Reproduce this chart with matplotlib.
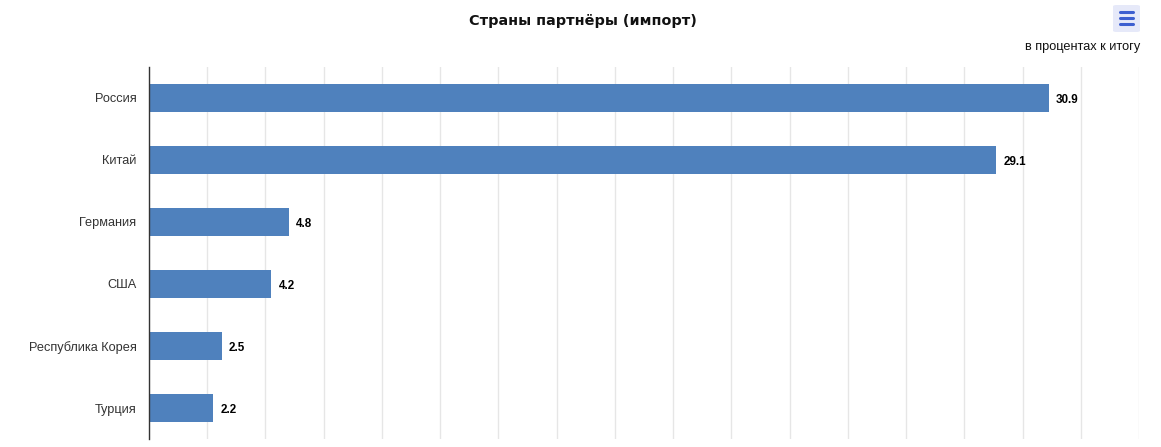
import numpy as np
import matplotlib
matplotlib.use("Agg")
import matplotlib.pyplot as plt
from matplotlib.patches import FancyBboxPatch

# Data
countries = ["Россия", "Китай", "Германия", "США", "Республика Корея", "Турция"]
shares = [30.9, 29.1, 4.8, 4.2, 2.5, 2.2]
x_ticks = np.arange(0, 36, 2)

W, H = 1161, 447
fig = plt.figure(figsize=(W / 100, H / 100), dpi=100)
fig.patch.set_facecolor("white")

# plot area in pixels: left 149, right 1139, top 67, bottom 439
ax = fig.add_axes([149 / W, 1 - 439 / H, (1139 - 149) / W, (439 - 67) / H])

y = np.arange(len(countries))
ax.barh(y, shares, height=0.46, color="#4f81bd", zorder=3)
for yi, v in zip(y, shares):
    ax.text(v + 0.25, yi + 0.03, f"{v:.1f}", va="center", ha="left",
            fontsize=8.4, fontweight="bold", color="black",
            family="Liberation Sans", zorder=4)

ax.set_xlim(0, 34)
ax.set_ylim(len(countries) - 0.5, -0.5)
ax.set_xticks(x_ticks)
ax.set_xticklabels([])
ax.tick_params(axis="x", length=0)
ax.grid(axis="x", color="#e6e6e6", linewidth=1, zorder=0)
ax.set_yticks(y)
ax.set_yticklabels(countries, family="Liberation Sans", fontsize=9.2, color="#333333")
ax.tick_params(axis="y", length=0, pad=9)

for side in ["top", "right", "bottom"]:
    ax.spines[side].set_visible(False)
ax.spines["left"].set_color("#333333")
ax.spines["left"].set_linewidth(1)
ax.spines["left"].set_zorder(5)

fig.text(583 / W, 1 - 21 / H, "Страны партнёры (импорт)", ha="center", va="center",
         fontsize=10.4, fontweight="bold", color="#111111", family="DejaVu Sans")
fig.text(1140 / W, 1 - 47 / H, "в процентах к итогу", ha="right", va="center",
         fontsize=9.2, color="#111111", family="Liberation Sans")

# menu button
btn = FancyBboxPatch((1113 / W, 1 - 32 / H), 27 / W, 27 / H,
                     boxstyle="round,pad=0,rounding_size=0.003",
                     transform=fig.transFigure, facecolor="#e6e9f9",
                     edgecolor="none")
fig.patches.append(btn)
for ly in [12, 18, 24]:
    fig.lines.append(plt.Line2D([1120 / W, 1133 / W], [1 - ly / H, 1 - ly / H],
                                transform=fig.transFigure, color="#3d5fd0",
                                linewidth=2.2, solid_capstyle="round"))

fig.savefig("out.png", dpi=100)
